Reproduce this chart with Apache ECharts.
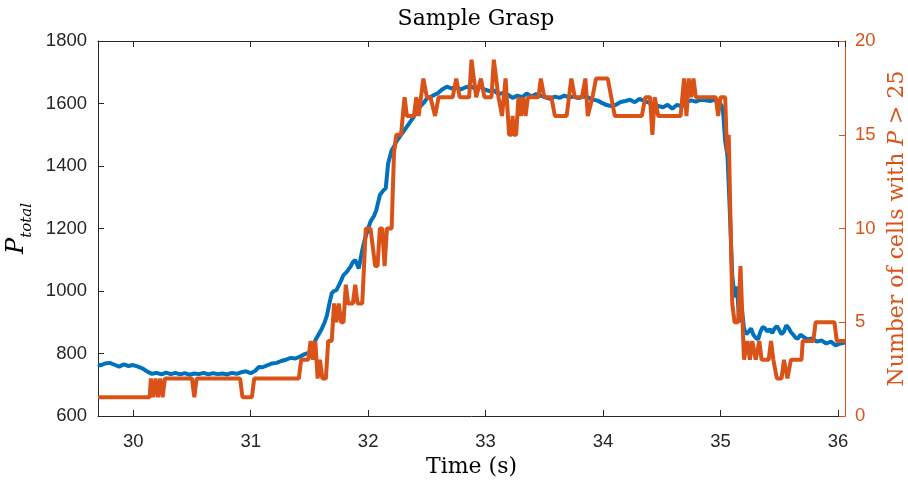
<!DOCTYPE html>
<html>
<head>
<meta charset="utf-8">
<title>Sample Grasp</title>
<script src="https://cdn.jsdelivr.net/npm/echarts@6.0.0/dist/echarts.min.js"></script>
<style>
  html, body { margin: 0; padding: 0; background: #fff; }
  #main { width: 908px; height: 483px; }
</style>
</head>
<body>
<div id="main"></div>
<script>
// P_total readings (left axis)
const timeP = [
  29.70, 29.72, 29.76, 29.80, 29.84, 29.88, 29.92, 29.96, 30.00, 30.04,
  30.08, 30.12, 30.16, 30.20, 30.24, 30.28, 30.32, 30.36, 30.40, 30.44,
  30.48, 30.52, 30.56, 30.60, 30.64, 30.68, 30.72, 30.76, 30.80, 30.84,
  30.88, 30.92, 30.96, 31.00, 31.04, 31.07, 31.10, 31.14, 31.18, 31.22,
  31.26, 31.30, 31.34, 31.38, 31.42, 31.46, 31.50, 31.53, 31.56, 31.60,
  31.63, 31.65, 31.67, 31.69, 31.71, 31.73, 31.76, 31.79, 31.82, 31.85,
  31.87, 31.89, 31.92, 31.95, 31.97, 32.00, 32.02, 32.05, 32.07, 32.10,
  32.13, 32.15, 32.17, 32.20, 32.22, 32.24, 32.27, 32.30, 32.33, 32.36,
  32.39, 32.43, 32.47, 32.50, 32.55, 32.59, 32.63, 32.67, 32.71, 32.75,
  32.79, 32.83, 32.87, 32.91, 32.95, 32.99, 33.03, 33.07, 33.11, 33.15,
  33.19, 33.23, 33.27, 33.31, 33.35, 33.39, 33.43, 33.47, 33.51, 33.55,
  33.59, 33.63, 33.67, 33.71, 33.75, 33.79, 33.83, 33.87, 33.91, 33.95,
  33.99, 34.03, 34.07, 34.11, 34.15, 34.19, 34.23, 34.27, 34.31, 34.35,
  34.39, 34.43, 34.47, 34.51, 34.55, 34.59, 34.63, 34.67, 34.71, 34.75,
  34.79, 34.83, 34.87, 34.91, 34.95, 34.99, 35.02, 35.04, 35.06, 35.08,
  35.10, 35.12, 35.14, 35.16, 35.18, 35.20, 35.22, 35.24, 35.26, 35.28,
  35.30, 35.32, 35.34, 35.36, 35.38, 35.40, 35.42, 35.44, 35.46, 35.48,
  35.50, 35.52, 35.54, 35.56, 35.58, 35.60, 35.62, 35.64, 35.66, 35.68,
  35.70, 35.74, 35.78, 35.82, 35.86, 35.90, 35.94, 35.98, 36.02, 36.06
];
const pTotal = [
  765, 762, 768, 770, 764, 758, 765, 760, 763, 758,
  752, 742, 735, 738, 733, 739, 734, 738, 733, 737,
  732, 736, 734, 738, 733, 737, 734, 736, 733, 738,
  735, 740, 743, 737, 745, 757, 756, 762, 768, 770,
  776, 780, 786, 784, 790, 798, 803, 825, 849, 875,
  900, 923, 960, 993, 1000, 1003, 1025, 1051, 1062, 1078,
  1092, 1099, 1072, 1131, 1163, 1200, 1222, 1240, 1259, 1307,
  1322, 1329, 1408, 1450, 1462, 1478, 1494, 1510, 1526, 1542,
  1558, 1585, 1601, 1616, 1625, 1632, 1645, 1654, 1648, 1653,
  1645, 1652, 1655, 1648, 1655, 1645, 1640, 1642, 1630, 1634,
  1628, 1618, 1625, 1620, 1632, 1622, 1630, 1625, 1620, 1615,
  1622, 1618, 1625, 1620, 1622, 1617, 1622, 1620, 1612, 1610,
  1602, 1595, 1592, 1596, 1605, 1608, 1612, 1604, 1615, 1608,
  1603, 1596, 1592, 1588, 1596, 1583, 1596, 1590, 1604, 1610,
  1606, 1612, 1610, 1608, 1612, 1606, 1585, 1480, 1430, 1250,
  1050, 980, 1015, 900, 950, 880, 862, 870, 880, 860,
  850, 845, 870, 885, 880, 870, 878, 865, 880, 888,
  875, 862, 870, 890, 882, 868, 860, 850, 848, 860,
  855, 845, 848, 838, 842, 832, 838, 826, 832, 835
];

// number of cells with P > 25 (right axis)
const timeN = [
  29.70, 30.14, 30.15, 30.17, 30.19, 30.21, 30.23, 30.25, 30.27, 30.50,
  30.52, 30.54, 30.91, 30.93, 31.01, 31.03, 31.41, 31.43, 31.49, 31.51,
  31.53, 31.55, 31.57, 31.59, 31.61, 31.64, 31.66, 31.69, 31.71, 31.73,
  31.75, 31.77, 31.79, 31.81, 31.83, 31.87, 31.89, 31.91, 31.95, 31.98,
  32.02, 32.04, 32.06, 32.08, 32.10, 32.12, 32.14, 32.16, 32.20, 32.22,
  32.24, 32.28, 32.31, 32.33, 32.39, 32.41, 32.43, 32.47, 32.50, 32.53,
  32.57, 32.60, 32.72, 32.75, 32.78, 32.86, 32.88, 32.92, 32.96, 32.99,
  33.05, 33.07, 33.11, 33.14, 33.17, 33.19, 33.20, 33.22, 33.23, 33.24,
  33.26, 33.28, 33.30, 33.32, 33.34, 33.36, 33.45, 33.47, 33.50, 33.56,
  33.59, 33.69, 33.73, 33.76, 33.82, 33.85, 33.87, 33.91, 33.94, 34.04,
  34.07, 34.10, 34.33, 34.36, 34.40, 34.42, 34.44, 34.47, 34.66, 34.69,
  34.71, 34.73, 34.75, 34.77, 34.79, 34.96, 34.98, 35.00, 35.04, 35.05,
  35.06, 35.07, 35.08, 35.10, 35.12, 35.15, 35.17, 35.20, 35.23, 35.25,
  35.27, 35.30, 35.33, 35.35, 35.41, 35.43, 35.45, 35.48, 35.52, 35.54,
  35.57, 35.60, 35.69, 35.70, 35.79, 35.81, 35.97, 35.99, 36.06
];
const cellCount = [
  1, 1, 2, 1, 2, 1, 2, 1, 2, 2,
  1, 2, 2, 1, 1, 2, 2, 3, 3, 4,
  3, 4, 2, 3, 2, 2, 4, 4, 6, 5,
  6, 5, 5, 7, 6, 6, 7, 6, 6, 10,
  10, 9, 8, 8, 10, 10, 8, 10, 10, 14,
  15, 15, 17, 16, 16, 17, 16, 18, 17, 17,
  16, 17, 17, 18, 17, 17, 19, 17, 18, 17,
  17, 19, 17, 16, 18, 16, 15, 15, 16, 15,
  15, 17, 16, 17, 16, 17, 17, 18, 17, 17,
  16, 16, 18, 17, 17, 18, 16, 17, 18, 18,
  17, 16, 16, 17, 17, 15, 17, 16, 16, 18,
  16, 18, 17, 18, 17, 17, 16, 17, 17, 15,
  14, 15, 12, 6, 5, 5, 8, 3, 4, 3,
  4, 3, 4, 3, 3, 4, 3, 2, 2, 3,
  2, 3, 3, 4, 4, 5, 5, 4, 4
];

const xMin = 29.70;
const xMax = 36.06;
const leftTicks = { min: 600, max: 1800, step: 200 };
const rightTicks = { min: 0, max: 20, step: 5 };

const blue = "#0072BD";
const orange = "#D95319";
const axisGray = "#262626";
const serif = "DejaVu Serif";
const sans = "Liberation Sans";

const chart = echarts.init(document.getElementById("main"));

// only whole seconds get a label (the extent ticks at min/max stay blank)
const secondLabel = (v) => (Math.abs(v - Math.round(v)) < 1e-6 ? String(Math.round(v)) : "");

const option = {
  animation: false,
  backgroundColor: "#fff",
  title: {
    text: "Sample Grasp",
    left: 471,
    top: 3,
    textAlign: "center",
    textStyle: { fontFamily: serif, fontSize: 22, fontWeight: "normal", color: "#000" },
  },
  grid: { left: 98, right: 63, top: 41, bottom: 67, containLabel: false, outerBoundsMode: "none" },
  xAxis: [
    {
      type: "value",
      min: xMin,
      max: xMax,
      splitNumber: 6,
      position: "bottom",
      axisLine: { lineStyle: { color: axisGray, width: 1 } },
      axisTick: { inside: true, length: 6, lineStyle: { color: axisGray } },
      axisLabel: {
        margin: 16,
        color: axisGray,
        fontFamily: sans,
        fontSize: 18.5,
        showMinLabel: false,
        showMaxLabel: false,
        formatter: secondLabel,
      },
      splitLine: { show: false },
      name: "Time (s)",
      nameLocation: "middle",
      nameGap: 38,
      nameTextStyle: { fontFamily: serif, fontSize: 22, color: "#000" },
    },
    {
      type: "value",
      min: xMin,
      max: xMax,
      splitNumber: 6,
      position: "top",
      axisLine: { lineStyle: { color: axisGray, width: 1 } },
      axisTick: { inside: true, length: 6, lineStyle: { color: axisGray } },
      axisLabel: { show: false },
      splitLine: { show: false },
    },
  ],
  yAxis: [
    {
      type: "value",
      position: "left",
      min: leftTicks.min,
      max: leftTicks.max,
      interval: leftTicks.step,
      axisLine: { show: true, lineStyle: { color: axisGray, width: 1 } },
      axisTick: { show: true, inside: true, length: 6, lineStyle: { color: axisGray } },
      axisLabel: { margin: 11, color: axisGray, fontFamily: sans, fontSize: 18.5, formatter: (v) => String(v) },
      splitLine: { show: false },
      name: "{p|P}{s|total}",
      nameLocation: "middle",
      nameRotate: 90,
      nameGap: 62,
      nameTextStyle: {
        rich: {
          p: { fontFamily: serif, fontStyle: "italic", fontSize: 24, lineHeight: 30, verticalAlign: "top", color: "#000" },
          s: { fontFamily: serif, fontStyle: "italic", fontSize: 15, lineHeight: 16, verticalAlign: "bottom", color: "#000" },
        },
      },
    },
    {
      type: "value",
      position: "right",
      min: rightTicks.min,
      max: rightTicks.max,
      interval: rightTicks.step,
      axisLine: { show: true, lineStyle: { color: orange, width: 1 } },
      axisTick: { show: true, inside: true, length: 6, lineStyle: { color: orange } },
      axisLabel: { margin: 10, color: orange, fontFamily: sans, fontSize: 18.5 },
      splitLine: { show: false },
      name: "Number of cells with {i|P} > 25",
      nameLocation: "middle",
      nameRotate: 90,
      nameGap: 40,
      nameTextStyle: {
        fontFamily: serif,
        fontSize: 22,
        color: orange,
        rich: {
          i: { fontFamily: serif, fontStyle: "italic", fontSize: 22, color: orange },
        },
      },
    },
  ],
  series: [
    {
      name: "P_total",
      type: "line",
      xAxisIndex: 0,
      yAxisIndex: 0,
      showSymbol: false,
      smooth: false,
      lineStyle: { color: blue, width: 4 },
      itemStyle: { color: blue },
      data: timeP.map((t, i) => [t, pTotal[i]]),
    },
    {
      name: "cells",
      type: "line",
      xAxisIndex: 0,
      yAxisIndex: 1,
      showSymbol: false,
      smooth: false,
      lineStyle: { color: orange, width: 4 },
      itemStyle: { color: orange },
      data: timeN.map((t, i) => [t, cellCount[i]]),
    },
  ],
};

chart.setOption(option);
</script>
</body>
</html>
